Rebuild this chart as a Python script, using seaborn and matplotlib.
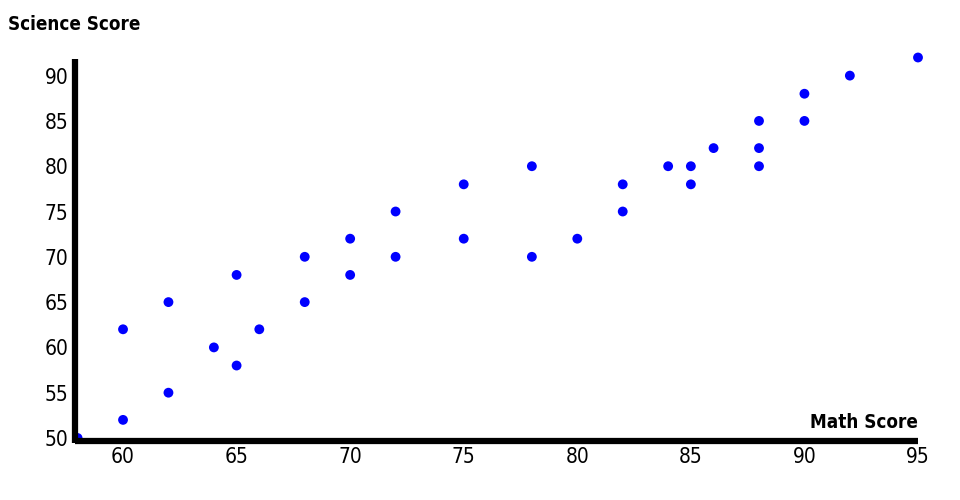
import matplotlib
matplotlib.use("Agg")
import matplotlib.pyplot as plt
import seaborn as sns
import pandas as pd

math_scores = [58, 60, 60, 62, 62, 64, 65, 65, 66, 68, 68, 70, 70, 72, 72, 75, 75,
               78, 78, 80, 82, 82, 84, 85, 85, 86, 88, 88, 88, 90, 90, 92, 95]
science_scores = [50, 62, 52, 65, 55, 60, 68, 58, 62, 70, 65, 72, 68, 75, 70, 78, 72,
                  80, 70, 72, 78, 75, 80, 80, 78, 82, 85, 82, 80, 88, 85, 90, 92]
x_ticks = [60, 65, 70, 75, 80, 85, 90, 95]
y_ticks = [50, 55, 60, 65, 70, 75, 80, 85, 90]

df = pd.DataFrame({"Math Score": math_scores, "Science Score": science_scores})

sns.set_style("white")
plt.rcParams['font.family'] = ['DejaVu Sans']
plt.rcParams['font.stretch'] = 'condensed'
plt.rcParams['text.color'] = 'black'
plt.rcParams['xtick.color'] = 'black'
plt.rcParams['ytick.color'] = 'black'

fig = plt.figure(figsize=(9.6, 5), dpi=100)
left_px, right_px, bottom_px, top_px = 77.6, 918, 438, 57.5
ax = fig.add_axes([left_px / 960, 1 - bottom_px / 500,
                   (right_px - left_px) / 960, (bottom_px - top_px) / 500])
sns.scatterplot(data=df, x="Math Score", y="Science Score", ax=ax,
                color="#0000ff", s=50, edgecolor="none", zorder=1, clip_on=False)

ax.set_xlim(58, 95)
ax.set_ylim(50, 92)
ax.set_xticks(x_ticks)
ax.set_yticks(y_ticks)
ax.tick_params(axis="both", length=0, labelsize=15, pad=5, labelcolor="black")
ax.set_xlabel("")
ax.set_ylabel("")
for side in ["top", "right"]:
    ax.spines[side].set_visible(False)
for side in ["left", "bottom"]:
    ax.spines[side].set_linewidth(4.5)
    ax.spines[side].set_color("black")
    ax.spines[side].set_zorder(3)
    ax.spines[side].set_position(("outward", 1.8))
    ax.spines[side].set_capstyle("butt")
ax.spines["left"].set_bounds(49.5, 91.8)
ax.spines["bottom"].set_bounds(57.9, 95)

fig.text(8 / 960, 1 - 24 / 500, "Science Score", fontsize=13.5, fontweight="bold",
         ha="left", va="center", color="black")
fig.text(918 / 960, 1 - 422 / 500, "Math Score", fontsize=13.5, fontweight="bold",
         ha="right", va="center", color="black")

fig.savefig("out.png", dpi=100)
